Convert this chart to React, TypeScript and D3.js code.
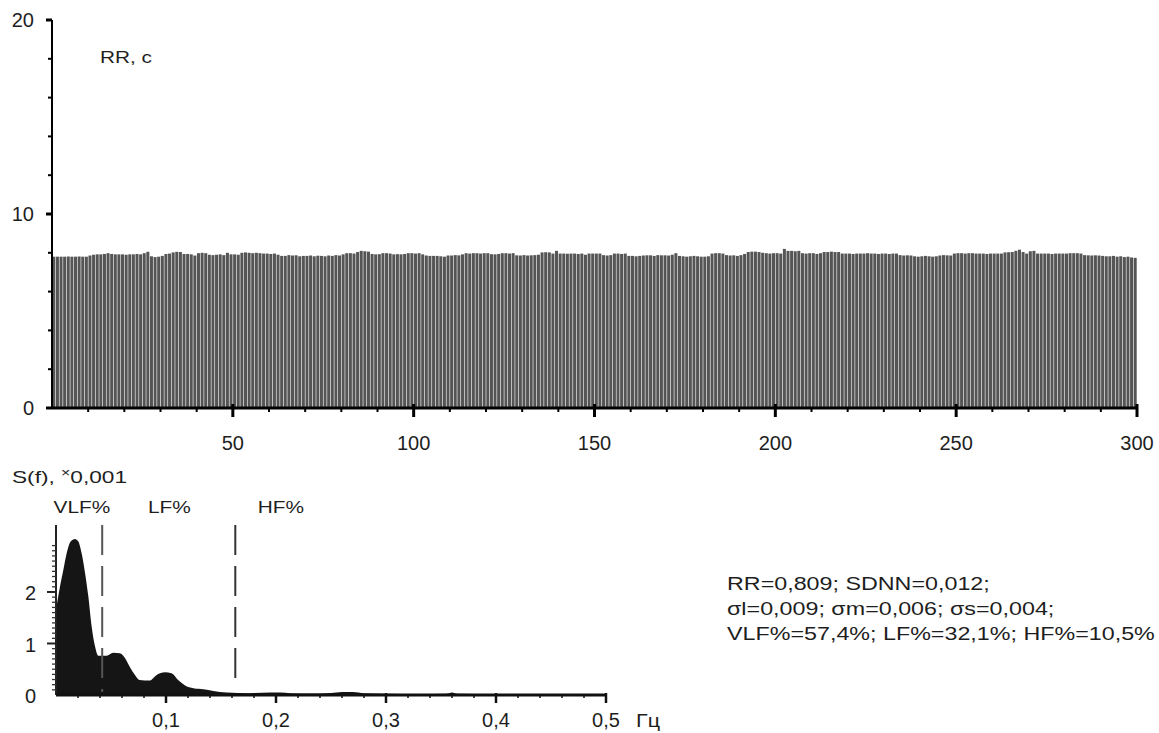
import React from 'react';
import * as d3 from 'd3';

// RR intervals (300 beats)
const rrValues = [
  7.80, 7.80, 7.80, 7.80, 7.81, 7.80, 7.80, 7.81, 7.80, 7.80,
  7.86, 7.90, 7.92, 7.92, 7.94, 7.98, 7.94, 7.92, 7.92, 7.92,
  7.90, 7.92, 7.92, 7.94, 7.92, 7.98, 8.05, 7.82, 7.78, 7.80,
  7.84, 7.94, 7.96, 8.02, 8.05, 8.04, 7.94, 7.94, 7.92, 7.86,
  7.98, 8.00, 7.98, 7.90, 7.88, 7.90, 7.92, 7.88, 8.00, 7.92,
  7.92, 7.90, 8.00, 8.02, 8.00, 7.98, 8.00, 7.98, 7.96, 7.96,
  7.94, 7.96, 7.90, 7.84, 7.84, 7.88, 7.86, 7.87, 7.82, 7.84,
  7.84, 7.86, 7.82, 7.85, 7.84, 7.82, 7.86, 7.84, 7.88, 7.86,
  7.92, 7.98, 7.98, 7.96, 8.04, 8.10, 8.08, 8.06, 7.94, 7.92,
  7.93, 7.98, 7.98, 7.96, 7.92, 7.93, 7.92, 7.94, 7.98, 7.98,
  7.96, 7.98, 7.92, 7.86, 7.84, 7.84, 7.84, 7.82, 7.80, 7.86,
  7.86, 7.88, 7.87, 7.92, 7.98, 7.96, 7.98, 7.98, 7.96, 7.98,
  7.98, 7.93, 7.92, 7.94, 7.98, 7.98, 7.96, 7.98, 7.87, 7.86,
  7.88, 7.86, 7.87, 7.88, 7.90, 8.02, 8.03, 8.02, 7.96, 8.10,
  7.96, 7.96, 7.95, 7.96, 7.96, 7.94, 7.96, 7.90, 7.96, 7.96,
  7.96, 7.96, 7.88, 7.86, 7.88, 7.96, 7.96, 7.94, 7.96, 7.84,
  7.84, 7.82, 7.84, 7.86, 7.87, 7.87, 7.84, 7.88, 7.87, 7.87,
  7.86, 7.90, 7.98, 7.84, 7.82, 7.80, 7.82, 7.84, 7.82, 7.80,
  7.80, 7.82, 7.96, 7.98, 7.98, 7.96, 7.88, 7.86, 7.87, 7.84,
  7.88, 7.94, 8.04, 8.06, 8.06, 8.04, 8.00, 7.98, 7.96, 7.98,
  7.98, 7.96, 8.20, 8.10, 8.10, 8.08, 8.10, 7.98, 7.96, 7.98,
  7.98, 7.94, 7.98, 8.04, 8.04, 8.06, 8.04, 8.04, 7.96, 7.96,
  7.96, 7.94, 7.96, 7.96, 7.96, 7.98, 7.96, 7.96, 7.94, 7.96,
  7.96, 7.94, 7.96, 7.96, 7.88, 7.86, 7.87, 7.86, 7.82, 7.80,
  7.82, 7.84, 7.82, 7.80, 7.82, 7.86, 7.88, 7.87, 7.86, 7.96,
  7.98, 7.98, 7.96, 7.98, 7.98, 7.96, 7.96, 7.96, 7.94, 7.96,
  7.96, 7.96, 7.96, 8.02, 8.03, 8.04, 8.10, 8.16, 8.04, 7.96,
  8.08, 8.10, 7.96, 7.96, 7.96, 7.96, 7.94, 7.96, 7.96, 7.96,
  7.96, 7.98, 7.98, 7.98, 7.96, 7.88, 7.87, 7.86, 7.87, 7.86,
  7.84, 7.82, 7.82, 7.84, 7.80, 7.82, 7.78, 7.80, 7.76, 7.74
];
const rrYTicks = [0, 10, 20];
const rrXTicks = [50, 100, 150, 200, 250, 300];

// spectrum S(f), x0.001
const specFreq = [0, 0.0036, 0.0067, 0.0097, 0.0133, 0.0173, 0.0203, 0.0233, 0.0264, 0.0294,
  0.0324, 0.0355, 0.0385, 0.046, 0.052, 0.058, 0.0627, 0.067, 0.0718, 0.076,
  0.085, 0.0915, 0.099, 0.105, 0.111, 0.117, 0.125, 0.134, 0.143, 0.155,
  0.176, 0.195, 0.204, 0.213, 0.23, 0.25, 0.26, 0.27, 0.28, 0.30,
  0.33, 0.355, 0.36, 0.365, 0.40, 0.45, 0.5];
const specPower = [1.65, 2.1, 2.43, 2.75, 2.98, 3.03, 2.98, 2.75, 2.37, 1.91,
  1.33, 0.94, 0.76, 0.76, 0.82, 0.81, 0.72, 0.55, 0.39, 0.29,
  0.28, 0.39, 0.44, 0.42, 0.29, 0.19, 0.13, 0.11, 0.08, 0.05,
  0.035, 0.05, 0.05, 0.035, 0.03, 0.04, 0.06, 0.06, 0.035, 0.025,
  0.02, 0.025, 0.05, 0.025, 0.02, 0.015, 0.015];
const specYTicks = [0, 1, 2];
const specXTicks = [0.1, 0.2, 0.3, 0.4, 0.5];
const specXLabels = ['0,1', '0,2', '0,3', '0,4', '0,5'];
const bandBounds = [0.042, 0.163];
const bandNames = ['VLF%', 'LF%', 'HF%'];
const bandLabelFreq = [0.0236, 0.103, 0.2045];

const statLines = [
  'RR=0,809; SDNN=0,012;',
  'σl=0,009; σm=0,006; σs=0,004;',
  'VLF%=57,4%; LF%=32,1%; HF%=10,5%'
];

const FONT = '"Liberation Sans", Arial, Helvetica, sans-serif';
const INK = '#1e1e1e';

export default function App() {
  const width = 1159;
  const height = 733;

  // top chart: rhythmogram
  const x = d3.scaleLinear().domain([0, 300]).range([52, 1137]);
  const y = d3.scaleLinear().domain([0, 20]).range([408, 20]);
  const step = x(1) - x(0);

  // bottom chart: spectrum
  const fx = d3.scaleLinear().domain([0, 0.5]).range([56, 606]);
  const fy = d3.scaleLinear().domain([0, 3.3]).range([695, 525]);

  const area = d3.area<number>()
    .x((d, i) => fx(specFreq[i]))
    .y0(fy(0))
    .y1(d => fy(d))
    .curve(d3.curveMonotoneX);

  const minorY = d3.range(2, 20, 2).filter(v => v !== 10);
  const minorX = d3.range(10, 300, 10).filter(v => v % 50 !== 0);
  const specMinorY = d3.range(1, 30).map(v => v / 10).filter(v => v % 1 !== 0);
  const specMinorX = d3.range(1, 25).map(v => v * 0.02).filter(v => Math.abs(v * 10 - Math.round(v * 10)) > 1e-6);

  // the caption lettering in the source figure is a wide face
  const stretch = 1.226;

  return (
    <svg width={width} height={height} style={{ position: 'absolute', left: 0, top: 0, background: '#fff' }}
      fontFamily={FONT}>
      {/* ---- rhythmogram ---- */}
      <g>
        {rrValues.map((v, i) => (
          <rect key={i} x={x(i) + 0.3} y={y(v)} width={step - 0.6} height={y(0) - y(v)} fill="#555" />
        ))}
        <line x1={x(0)} x2={x(0)} y1={y(20)} y2={y(0)} stroke="#000" strokeWidth={2} />
        {rrYTicks.map(t => (
          <g key={t}>
            <line x1={x(0) - 6} x2={x(0)} y1={y(t)} y2={y(t)} stroke="#000" strokeWidth={3} />
            <text x={34} y={y(t)} dy="0.35em" textAnchor="end" fontSize={20} fill={INK}>{t}</text>
          </g>
        ))}
        {minorY.map(t => (
          <line key={t} x1={x(0) - 4} x2={x(0)} y1={y(t)} y2={y(t)} stroke="#000" strokeWidth={2} />
        ))}
        <line x1={x(0)} x2={x(300) + 1} y1={y(0)} y2={y(0)} stroke="#000" strokeWidth={3} />
        {minorX.map(t => (
          <line key={t} x1={x(t)} x2={x(t)} y1={y(0)} y2={y(0) + 4} stroke="#000" strokeWidth={2} />
        ))}
        {rrXTicks.map(t => (
          <g key={t}>
            <line x1={x(t)} x2={x(t)} y1={y(0) - 4} y2={y(0) + 9} stroke="#000" strokeWidth={3} />
            <text x={x(t)} y={450} textAnchor="middle" fontSize={20} fill={INK}>{t}</text>
          </g>
        ))}
        <text x={100} y={63} fontSize={16} textLength={52} lengthAdjust="spacingAndGlyphs" fill={INK}>RR, с</text>
      </g>

      {/* ---- spectrum ---- */}
      <g>
        <path d={area(specPower) || ''} fill="#151515" />
        <line x1={fx(0)} x2={fx(0)} y1={fy(3.3)} y2={fy(0)} stroke="#222" strokeWidth={2} />
        {specMinorY.map(t => (
          <line key={t} x1={fx(0) - 4} x2={fx(0)} y1={fy(t)} y2={fy(t)} stroke="#333" strokeWidth={1.3} />
        ))}
        {specYTicks.map(t => (
          <g key={t}>
            {t > 0 && <line x1={fx(0) - 9} x2={fx(0)} y1={fy(t)} y2={fy(t)} stroke="#222" strokeWidth={2} />}
            <text x={36} y={fy(t)} dy="0.42em" textAnchor="end" fontSize={20} fill={INK}>{t}</text>
          </g>
        ))}
        <line x1={fx(0)} x2={fx(0.5) + 1} y1={fy(0)} y2={fy(0)} stroke="#111" strokeWidth={3} />
        {specMinorX.map(t => (
          <line key={t} x1={fx(t)} x2={fx(t)} y1={fy(0)} y2={fy(0) + 3} stroke="#111" strokeWidth={1.5} />
        ))}
        {specXTicks.map((t, i) => (
          <g key={t}>
            <line x1={fx(t)} x2={fx(t)} y1={fy(0) - 2} y2={fy(0) + 8} stroke="#111" strokeWidth={2.5} />
            <text x={fx(t)} y={727} textAnchor="middle" fontSize={20} fill={INK}>{specXLabels[i]}</text>
          </g>
        ))}
        <text x={636} y={727} fontSize={19} textLength={24} lengthAdjust="spacingAndGlyphs" fill={INK}>Гц</text>
        {bandBounds.map((b, i) => (
          <line key={b} x1={fx(b)} x2={fx(b)} y1={fy(3.3)} y2={i === 0 ? fy(0.06) : fy(0.29)}
            stroke={i === 0 ? '#555' : '#333'} strokeWidth={2} strokeDasharray="30 11" />
        ))}
        {bandNames.map((n, i) => (
          <text key={n} x={fx(bandLabelFreq[i])} y={513} textAnchor="middle" fontSize={17}
            transform={`translate(${fx(bandLabelFreq[i]) * (1 - stretch)},0) scale(${stretch},1)`}
            fill={INK}>{n}</text>
        ))}
        <text x={12} y={483} fontSize={17} textLength={115} lengthAdjust="spacingAndGlyphs" fill={INK}>
          S(f), <tspan fontSize={12} dy={-6}>×</tspan><tspan dy={6}>0,001</tspan>
        </text>
      </g>

      {/* ---- statistics ---- */}
      <g fontSize={19} fill={INK} transform={`translate(727,0) scale(${stretch},1)`}>
        {statLines.map((s, i) => (
          <text key={i} x={0} y={590 + i * 25}>{s}</text>
        ))}
      </g>
    </svg>
  );
}
